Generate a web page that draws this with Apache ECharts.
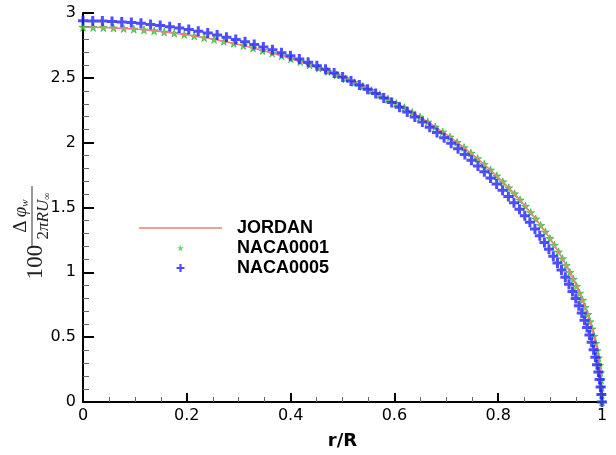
<!DOCTYPE html>
<html>
<head>
<meta charset="utf-8">
<script src="https://cdn.jsdelivr.net/npm/echarts@6/dist/echarts.min.js"></script>
<style>html,body{margin:0;padding:0;background:#fff;}#c{width:616px;height:455px;}</style>
</head>
<body>
<div id="c"></div>
<script>
// ---- data ----
var jordanR = [0, 0.0393, 0.0785, 0.1175, 0.1564, 0.1951, 0.2335, 0.2714, 0.3090, 0.3461, 0.3827, 0.4187, 0.4540, 0.4886, 0.5225, 0.5556, 0.5878, 0.6191, 0.6494, 0.6788, 0.7071, 0.7343, 0.7604, 0.7853, 0.8090, 0.8315, 0.8526, 0.8725, 0.8910, 0.9081, 0.9239, 0.9382, 0.9511, 0.9625, 0.9724, 0.9808, 0.9877, 0.9931, 0.9969, 0.9992, 1];
var jordanY = [2.890, 2.888, 2.881, 2.870, 2.854, 2.835, 2.810, 2.782, 2.749, 2.711, 2.670, 2.625, 2.575, 2.522, 2.464, 2.403, 2.338, 2.270, 2.198, 2.122, 2.044, 1.962, 1.877, 1.789, 1.699, 1.606, 1.510, 1.412, 1.312, 1.210, 1.106, 1.000, 0.893, 0.785, 0.675, 0.564, 0.452, 0.340, 0.227, 0.113, 0];

var naca0001R = [0, 0.0196, 0.0393, 0.0589, 0.0785, 0.0980, 0.1175, 0.1370, 0.1564, 0.1758, 0.1951, 0.2143, 0.2335, 0.2525, 0.2714, 0.2903, 0.3090, 0.3276, 0.3461, 0.3645, 0.3827, 0.4007, 0.4187, 0.4364, 0.4540, 0.4714, 0.4886, 0.5057, 0.5225, 0.5391, 0.5556, 0.5718, 0.5878, 0.6036, 0.6191, 0.6344, 0.6494, 0.6643, 0.6788, 0.6931, 0.7071, 0.7208, 0.7343, 0.7475, 0.7604, 0.7730, 0.7853, 0.7973, 0.8090, 0.8204, 0.8315, 0.8422, 0.8526, 0.8628, 0.8725, 0.8819, 0.8910, 0.8998, 0.9081, 0.9162, 0.9239, 0.9312, 0.9382, 0.9448, 0.9511, 0.9569, 0.9625, 0.9676, 0.9724, 0.9768, 0.9808, 0.9844, 0.9877, 0.9906, 0.9931, 0.9952, 0.9969, 0.9983, 0.9992, 0.9998, 1];
var naca0001Y = [2.890, 2.889, 2.888, 2.885, 2.881, 2.876, 2.870, 2.863, 2.854, 2.845, 2.835, 2.823, 2.810, 2.796, 2.782, 2.766, 2.749, 2.731, 2.711, 2.691, 2.670, 2.648, 2.625, 2.600, 2.575, 2.549, 2.522, 2.493, 2.464, 2.434, 2.403, 2.371, 2.338, 2.304, 2.270, 2.234, 2.198, 2.160, 2.122, 2.083, 2.044, 2.003, 1.962, 1.920, 1.877, 1.833, 1.789, 1.744, 1.699, 1.652, 1.606, 1.558, 1.510, 1.461, 1.412, 1.362, 1.312, 1.261, 1.210, 1.158, 1.106, 1.053, 1.000, 0.947, 0.893, 0.839, 0.785, 0.730, 0.675, 0.619, 0.564, 0.508, 0.452, 0.396, 0.340, 0.283, 0.227, 0.170, 0.113, 0.057, 0];

var naca0005R = [0, 0.0187, 0.0373, 0.0559, 0.0746, 0.0931, 0.1117, 0.1302, 0.1487, 0.1671, 0.1855, 0.2038, 0.2221, 0.2403, 0.2584, 0.2764, 0.2943, 0.3122, 0.3299, 0.3475, 0.3650, 0.3824, 0.3997, 0.4168, 0.4338, 0.4506, 0.4673, 0.4839, 0.5002, 0.5164, 0.5325, 0.5483, 0.5640, 0.5795, 0.5948, 0.6099, 0.6248, 0.6394, 0.6539, 0.6681, 0.6821, 0.6958, 0.7094, 0.7226, 0.7357, 0.7485, 0.7610, 0.7733, 0.7852, 0.7970, 0.8084, 0.8196, 0.8304, 0.8410, 0.8512, 0.8611, 0.8708, 0.8801, 0.8891, 0.8978, 0.9062, 0.9142, 0.9219, 0.9294, 0.9364, 0.9431, 0.9494, 0.9554, 0.9610, 0.9663, 0.9712, 0.9758, 0.9800, 0.9838, 0.9872, 0.9903, 0.9930, 0.9953, 0.9973, 0.9988, 1];
var naca0005Y = [2.940, 2.939, 2.938, 2.935, 2.931, 2.926, 2.920, 2.912, 2.904, 2.894, 2.884, 2.872, 2.859, 2.845, 2.830, 2.813, 2.796, 2.778, 2.758, 2.738, 2.716, 2.694, 2.670, 2.645, 2.620, 2.593, 2.566, 2.537, 2.507, 2.476, 2.445, 2.412, 2.379, 2.344, 2.309, 2.273, 2.236, 2.197, 2.159, 2.119, 2.079, 2.038, 1.996, 1.953, 1.909, 1.865, 1.820, 1.775, 1.728, 1.681, 1.633, 1.585, 1.536, 1.487, 1.436, 1.386, 1.335, 1.283, 1.231, 1.178, 1.125, 1.072, 1.018, 0.963, 0.909, 0.853, 0.798, 0.742, 0.686, 0.630, 0.574, 0.517, 0.460, 0.403, 0.346, 0.288, 0.231, 0.173, 0.115, 0.058, 0];

var xTickLabels = ['0', '0.2', '0.4', '0.6', '0.8', '1'];
var yTickLabels = ['0', '0.5', '1', '1.5', '2', '2.5', '3'];
var seriesNames = ['JORDAN', 'NACA0001', 'NACA0005'];

function zip(a, b) { var o = []; for (var i = 0; i < a.length; i++) o.push([a[i], b[i]]); return o; }

var STAR = 'path://M50,0L61,35L98,35L68,57L79,91L50,70L21,91L32,57L2,35L39,35Z';
var PLUS = 'path://M3.5,0H6.5V3.5H10V6.5H6.5V10H3.5V6.5H0V3.5H3.5Z';
// legend icons drawn inside an 830x140 frame (tiny corner specks fix the frame) so they sit centred in the 83x14 cell
var FRAME = 'M0,0L0.01,0L0,0.01Z M830,140L829.99,140L830,139.99Z ';
var LEG_LINE = 'path://' + FRAME + 'M0,62H830V78H0Z';
var LEG_STAR = 'path://' + FRAME + 'M415,38L422.7,62.5L448.6,62.5L427.6,77.9L435.3,101.7L415,87L394.7,101.7L402.4,77.9L381.4,62.5L407.3,62.5Z';
var LEG_PLUS = 'path://' + FRAME + 'M404,30H426V59H455V81H426V110H404V81H375V59H404Z';
var SANS = 'Liberation Sans, Arial, sans-serif';
var WIDE = 'DejaVu Sans, Verdana, sans-serif';
var SERIF = 'Liberation Serif, Times New Roman, serif';

var chart = echarts.init(document.getElementById('c'), null, { renderer: 'canvas' });

var option = {
  backgroundColor: '#fff',
  animation: false,
  grid: { left: 83, right: 14, top: 13, bottom: 37, containLabel: false },
  legend: {
    orient: 'vertical', left: 139, top: 219, padding: 0, itemGap: 2,
    itemWidth: 83, itemHeight: 14, selectedMode: false, symbolKeepAspect: true,
    itemStyle: { borderWidth: 0 },
    textStyle: { fontSize: 18, fontWeight: 'bold', color: '#000', fontFamily: SANS, padding: [0, 0, 0, 10] },
    data: [
      { name: seriesNames[0], icon: LEG_LINE },
      { name: seriesNames[1], icon: LEG_STAR },
      { name: seriesNames[2], icon: LEG_PLUS }
    ]
  },
  xAxis: {
    type: 'value', min: 0, max: 1, interval: 0.2,
    name: 'r/R', nameLocation: 'middle', nameGap: 30,
    nameTextStyle: { fontSize: 18, fontWeight: 'bold', color: '#000', fontFamily: WIDE },
    axisLine: { lineStyle: { color: '#000', width: 2 } },
    axisTick: { inside: true, length: 9, lineStyle: { color: '#000', width: 2 } },
    minorTick: { show: true, splitNumber: 4, length: 5, lineStyle: { color: '#666', width: 1 } },
    splitLine: { show: false },
    axisLabel: { fontSize: 16, color: '#000', fontFamily: WIDE, margin: 6,
      formatter: function (v) { var i = Math.round(v / 0.2); return xTickLabels[i] !== undefined ? xTickLabels[i] : ''; } }
  },
  yAxis: {
    type: 'value', min: 0, max: 3, interval: 0.5,
    axisLine: { show: true, lineStyle: { color: '#000', width: 2 } },
    axisTick: { show: true, inside: true, length: 11, lineStyle: { color: '#000', width: 2 } },
    minorTick: { show: true, splitNumber: 5, length: 6, lineStyle: { color: '#666', width: 1 } },
    splitLine: { show: false },
    axisLabel: { fontSize: 16, color: '#000', fontFamily: WIDE, margin: 7,
      formatter: function (v) { var i = Math.round(v / 0.5); return yTickLabels[i] !== undefined ? yTickLabels[i] : ''; } }
  },
  series: [
    { name: seriesNames[1], type: 'scatter', data: zip(naca0001R, naca0001Y), symbol: STAR, symbolSize: 8,
      itemStyle: { color: '#2ed82e', borderColor: '#109a10', borderWidth: 0.6 }, z: 2 },
    { name: seriesNames[0], type: 'line', data: zip(jordanR, jordanY), showSymbol: false, symbol: 'none',
      lineStyle: { color: '#f27e7e', width: 1.5 }, itemStyle: { color: '#f27e7e' }, z: 3 },
    { name: seriesNames[2], type: 'scatter', data: zip(naca0005R, naca0005Y), symbol: PLUS, symbolSize: 10,
      itemStyle: { color: '#2222ff', borderWidth: 0 }, z: 4 }
  ],
  graphic: [
    {
      type: 'group', x: 32, y: 230, rotation: Math.PI / 2, silent: true,
      children: [
        { type: 'text', x: -32, y: 4, style: { text: '100', font: '23px ' + SERIF, fill: '#222', align: 'center', verticalAlign: 'middle' } },
        { type: 'line', shape: { x1: -16, y1: 0, x2: 44, y2: 0 }, style: { stroke: '#333', lineWidth: 1 } },
        { type: 'text', x: 14, y: -11, style: {
            text: '{a|Δ} {p|φ}{s|w}', align: 'center', verticalAlign: 'middle', fill: '#222',
            rich: {
              a: { fontSize: 19, fontFamily: SERIF, fill: '#222' },
              p: { fontSize: 19, fontFamily: SERIF, fontStyle: 'italic', fill: '#222' },
              s: { fontSize: 11, fontFamily: SERIF, fontStyle: 'italic', fill: '#222', verticalAlign: 'bottom' }
            } } },
        { type: 'text', x: 14, y: 12, style: {
            text: '{n|2}{i|πRU}{s|∞}', align: 'center', verticalAlign: 'middle', fill: '#222',
            rich: {
              n: { fontSize: 17, fontFamily: SERIF, fill: '#222' },
              i: { fontSize: 17, fontFamily: SERIF, fontStyle: 'italic', fill: '#222' },
              s: { fontSize: 10, fontFamily: SERIF, fill: '#222', verticalAlign: 'bottom' }
            } } }
      ]
    }
  ]
};
chart.setOption(option);
</script>
</body>
</html>
